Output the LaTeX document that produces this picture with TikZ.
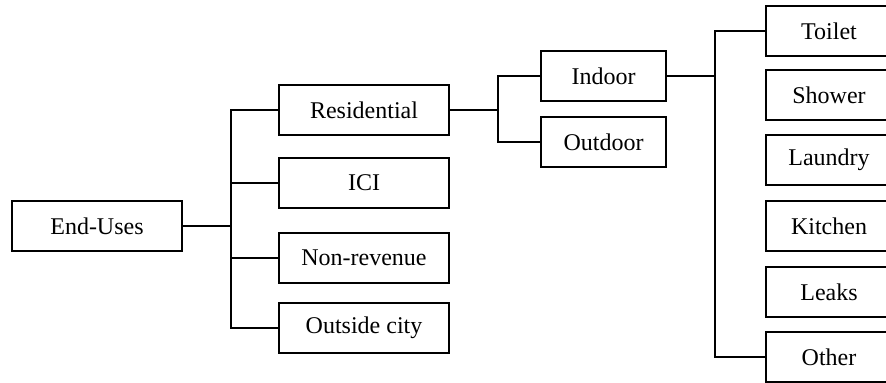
\documentclass[tikz,border=0pt]{standalone}
\usepackage{fontspec}
\setmainfont{Liberation Serif}

\tikzstyle{box}=[draw=black,line width=1pt,fill=white,inner sep=0pt,minimum height=25pt,font=\fontsize{12}{14}\selectfont]
\tikzstyle{wide}=[box,minimum width=85pt]
\tikzstyle{narrow}=[box,minimum width=62.5pt]
\tikzstyle{leaf}=[box,minimum width=63pt]
\tikzstyle{link}=[draw=black,line width=1pt]

\begin{document}
\begin{tikzpicture}[x=0.5pt,y=-0.5pt]

   \useasboundingbox (0,0) rectangle (886,383);

   % Top level

   \node[wide] (enduses) at (97,226) {End-Uses};

   % Sectors

   \node[wide] (res) at (364,110) {Residential};
   \node[wide] (ici) at (364,183) {ICI};
   \node[wide] (nonrev) at (364,258) {Non-revenue};
   \node[wide] (outside) at (364,328) {Outside city};

   % Residential split

   \node[narrow] (indoor) at (603.5,76) {Indoor};
   \node[narrow] (outdoor) at (603.5,142) {Outdoor};

   % Indoor uses

   \node[leaf] (toilet) at (829,31) {Toilet};
   \node[leaf] (shower) at (829,95.5) {Shower};
   \node[leaf] (laundry) at (829,160) {Laundry};
   \node[leaf] (kitchen) at (829,226) {Kitchen};
   \node[leaf] (leaks) at (829,292) {Leaks};
   \node[leaf] (other) at (829,357.5) {Other};

   \coordinate (b1) at (231,226);
   \coordinate (b2) at (498,110);
   \coordinate (b3) at (715,76);

   \draw[link] (enduses.east) -- (b1);
   \draw[link] (res.west) -| (b1) |- (outside.west);
   \draw[link] (ici.west) -- (ici.west -| b1);
   \draw[link] (nonrev.west) -- (nonrev.west -| b1);

   \draw[link] (res.east) -- (b2);
   \draw[link] (indoor.west) -| (b2) |- (outdoor.west);

   \draw[link] (indoor.east) -- (b3);
   \draw[link] (toilet.west) -| (b3) |- (other.west);

\end{tikzpicture}
\end{document}
